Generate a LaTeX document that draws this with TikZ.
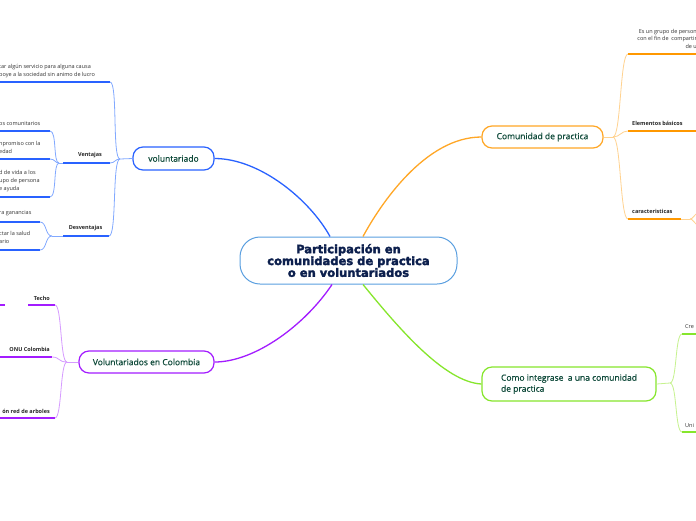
\documentclass[tikz,border=0pt]{standalone}
\usepackage{fontspec}
\setmainfont{Open Sans}
\newfontfamily\heavyfont{DejaVu Sans}[BoldFeatures={FakeBold=2.5}]
\newfontfamily\semifont{Open Sans}[FakeBold=0.6]
\definecolor{cblue}{HTML}{2962FF}
\definecolor{cbluel}{HTML}{82A9FF}
\definecolor{corange}{HTML}{FFA726}
\definecolor{corangeu}{HTML}{FF9800}
\definecolor{corangel}{HTML}{FFD28F}
\definecolor{cpurple}{HTML}{A31CFF}
\definecolor{cpurplel}{HTML}{D69BFF}
\definecolor{cgreen}{HTML}{86E62C}
\definecolor{cgreenl}{HTML}{C6F28E}
\definecolor{ccenter}{HTML}{5A9FE0}
\definecolor{ctext}{HTML}{0C1F4D}
\definecolor{ntext}{HTML}{0F4A3A}
\definecolor{ltext}{HTML}{333333}
\begin{document}
\begin{tikzpicture}[x=1pt,y=-1pt,
  mainnode/.style={draw, line width=1.2pt, fill=white, rounded corners=10pt, inner sep=0pt,
    text=ntext, font=\semifont\fontsize{8.5}{11}\selectfont},
  centernode/.style={draw=ccenter, line width=1pt, fill=white, rounded corners=20pt, inner sep=0pt,
    minimum width=217pt, minimum height=47pt, align=center, text=ctext,
    font=\heavyfont\bfseries\fontsize{11.5}{11.8}\selectfont},
  leaf/.style={inner sep=0pt, text=ltext, align=left, font=\fontsize{5.5}{7.8}\selectfont},
  leafr/.style={leaf, align=right},
  label/.style={inner sep=0pt, text=black!85, font=\bfseries\fontsize{5.5}{7}\selectfont},
  mainline/.style={line width=1.3pt},
  uline/.style={line width=1.8pt},
  twig/.style={line width=0.8pt}
]
\useasboundingbox (0,0) rectangle (696,520);
\fill[white] (0,0) rectangle (696,520);

% ---------- main nodes ----------
\node[centernode] (c) at (348.5,260.5) {Participación en\\comunidades de practica\\o en voluntariados};
\node[mainnode, draw=cblue, minimum width=81pt, minimum height=23pt] (vol) at (173.5,158.5) {voluntariado};
\node[mainnode, draw=corange, minimum width=121pt, minimum height=22pt] (com) at (542.5,137) {Comunidad de practica};
\node[mainnode, draw=cpurple, minimum width=135pt, minimum height=22pt] (vcol) at (146.5,362) {Voluntariados en Colombia};
\node[mainnode, draw=cgreen, minimum width=174pt, minimum height=34pt, align=left] (como) at (569,384) {Como integrase\ \ a una comunidad\\de practica};

% ---------- main connectors ----------
\draw[cblue, mainline] (vol.east) .. controls (260,158.5) and (310,200) .. ([xshift=-18.5pt]c.north);
\draw[corange, mainline] ([xshift=14.5pt]c.north) .. controls (380,205) and (425,137) .. (com.west);
\draw[cpurple, mainline] ([xshift=-16.5pt]c.south) .. controls (305,325) and (255,362) .. (vcol.east);
\draw[cgreen, mainline] ([xshift=14.5pt]c.south) .. controls (400,330) and (445,382) .. (como.west);

% ---------- voluntariado branch ----------
\coordinate (b1) at (120,159);
\draw[cbluel, twig] (vol.west) -- (b1);
% top leaf
\coordinate (l1s) at (-1,82); \coordinate (l1e) at (110,82);
\draw[cblue, uline] (l1s) -- (l1e);
\draw[cbluel, twig] (l1e) .. controls (118,82) and (112,159) .. (b1);
\node[leaf, anchor=west] (l1t) at (-1,70.7) {tar algún servicio para alguna causa\\poye a la sociedad sin animo de lucro};
% Ventajas
\coordinate (ve1) at (63,163); \coordinate (ve2) at (110,163); \coordinate (vb) at (59,163);
\node[label] (vent) at (90,155.5) {Ventajas};
\draw[cblue, uline] (ve1) -- (ve2);
\draw[cbluel, twig] (ve2) .. controls (115,163) and (115,159) .. (b1);
\draw[cbluel, twig] (ve1) -- (vb);
\coordinate (v1s) at (-1,131); \coordinate (v1e) at (50,131);
\coordinate (v2s) at (-1,159); \coordinate (v2e) at (50,159);
\coordinate (v3s) at (-1,197); \coordinate (v3e) at (50,197);
\draw[cblue, uline] (v1s) -- (v1e);
\draw[cblue, uline] (v2s) -- (v2e);
\draw[cblue, uline] (v3s) -- (v3e);
\draw[cbluel, twig] (v1e) .. controls (57,131) and (53,163) .. (vb);
\draw[cbluel, twig] (v2e) .. controls (55,159) and (55,163) .. (vb);
\draw[cbluel, twig] (v3e) .. controls (57,197) and (53,163) .. (vb);
\node[leaf, anchor=west] (v1t) at (-1,124) {os comunitarios};
\node[leaf, anchor=west] (v2t) at (-1,147.6) {npromiso con la\\edad};
\node[leaf, anchor=west] (v3t) at (-1,180.8) {d de vida a los\\upo de persona\\e ayuda};
% Desventajas
\coordinate (de1) at (63,236); \coordinate (de2) at (109,236); \coordinate (db) at (52,236);
\node[label] (desv) at (85.5,228) {Desventajas};
\draw[cblue, uline] (de1) -- (de2);
\draw[cbluel, twig] (de2) .. controls (117,236) and (112,159) .. (b1);
\draw[cbluel, twig] (de1) -- (db);
\coordinate (d1s) at (-1,222); \coordinate (d1e) at (40,222);
\coordinate (d2s) at (-1,250); \coordinate (d2e) at (40,250);
\draw[cblue, uline] (d1s) -- (d1e);
\draw[cblue, uline] (d2s) -- (d2e);
\draw[cbluel, twig] (d1e) .. controls (47,222) and (45,236) .. (db);
\draw[cbluel, twig] (d2e) .. controls (47,250) and (45,236) .. (db);
\node[leaf, anchor=west] (d1t) at (-1,213.5) {ra ganancias};
\node[leaf, anchor=west] (d2t) at (-1,237.6) {ctar la salud\\ario};

% ---------- Voluntariados en Colombia branch ----------
\coordinate (p1) at (67,362);
\draw[cpurplel, twig] (vcol.west) -- (p1);
\coordinate (t1s) at (28,305); \coordinate (t1e) at (55,305);
\coordinate (t0s) at (-1,305); \coordinate (t0e) at (5,305);
\draw[cpurple, uline] (t1s) -- (t1e);
\draw[cpurple, uline] (t0s) -- (t0e);
\draw[cpurplel, twig] (t1e) .. controls (62,305) and (60,362) .. (p1);
\node[label, anchor=east] (techo) at (50,298) {Techo};
\coordinate (o1s) at (-1,357); \coordinate (o1e) at (52,357);
\draw[cpurple, uline] (o1s) -- (o1e);
\draw[cpurplel, twig] (o1e) .. controls (60,357) and (58,362) .. (p1);
\node[label, anchor=east] (onu) at (50,349.5) {ONU Colombia};
\coordinate (a1s) at (-1,418); \coordinate (a1e) at (55,418);
\draw[cpurple, uline] (a1s) -- (a1e);
\draw[cpurplel, twig] (a1e) .. controls (62,418) and (60,362) .. (p1);
\node[label, anchor=east] (arb) at (50,411) {ón red de arboles};

% ---------- Comunidad de practica branch ----------
\coordinate (ob) at (613,137);
\draw[corangel, twig] (com.east) -- (ob);
\coordinate (c1s) at (628,54); \coordinate (c1e) at (697,54);
\draw[corangeu, uline] (c1s) -- (c1e);
\draw[corangel, twig] (ob) .. controls (621,137) and (620,54) .. (c1s);
\node[leafr, anchor=east] (c1t) at (697,38.8) {Es un grupo de person\\con el fin de\ \ compartir\\de u};
\coordinate (c2s) at (628,131); \coordinate (c2e) at (697,131);
\draw[corangeu, uline] (c2s) -- (c2e);
\draw[corangel, twig] (ob) .. controls (620,137) and (621,131) .. (c2s);
\node[label, anchor=west] (elem) at (632,123.5) {Elementos básicos};
\coordinate (c3s) at (628,219); \coordinate (c3e) at (681,219); \coordinate (c3f) at (690,219);
\draw[corangeu, uline] (c3s) -- (c3e);
\draw[corangel, twig] (c3e) -- (c3f);
\draw[corangel, twig] (ob) .. controls (621,137) and (620,219) .. (c3s);
\coordinate (c3u) at (697,213); \coordinate (c3d) at (697,225);
\draw[corangel, twig] (c3f) .. controls (693,219) and (694,215) .. (c3u);
\draw[corangel, twig] (c3f) .. controls (693,219) and (694,223) .. (c3d);
\node[label, anchor=west] (cara) at (632,211.7) {caracteristicas};

% ---------- Como integrase branch ----------
\coordinate (gb) at (670,383);
\draw[cgreenl, twig] (como.east) -- (gb);
\coordinate (g1s) at (682,334); \coordinate (g1e) at (697,334);
\draw[cgreen, uline] (g1s) -- (g1e);
\draw[cgreenl, twig] (gb) .. controls (677,383) and (675,334) .. (g1s);
\node[leaf, anchor=west] (cre) at (685,327) {Cre};
\coordinate (g2s) at (682,432); \coordinate (g2e) at (697,432);
\draw[cgreen, uline] (g2s) -- (g2e);
\draw[cgreenl, twig] (gb) .. controls (677,383) and (675,432) .. (g2s);
\node[leaf, anchor=west] (uni) at (685,425) {Uni};
\end{tikzpicture}
\end{document}
